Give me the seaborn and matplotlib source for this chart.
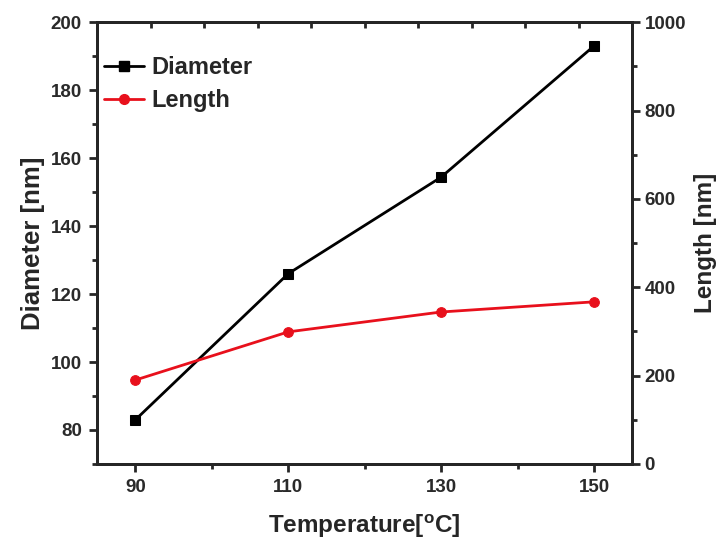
import pandas as pd
import matplotlib
matplotlib.use("Agg")
import matplotlib.pyplot as plt
from matplotlib.lines import Line2D
from matplotlib.ticker import MultipleLocator
import seaborn as sns

# data
temperature = [90, 110, 130, 150]
diameter = [83, 126, 154.4, 193]
length = [190, 299, 344, 367]

sns.set_style("ticks")
plt.rcParams['font.family'] = ['Liberation Sans', 'DejaVu Sans']
plt.rcParams['font.weight'] = 'bold'
plt.rcParams['axes.labelweight'] = 'bold'
plt.rcParams['axes.linewidth'] = 2.0
plt.rcParams['mathtext.default'] = 'regular'

TICK_COLOR = "#2a2a2a"


def main() -> None:
    df = pd.DataFrame({"temperature": temperature, "diameter": diameter, "length": length})

    fig = plt.figure(figsize=(7.2, 5.42), dpi=100)
    ax = fig.add_axes([0.135, 0.144, 0.743, 0.815])

    sns.lineplot(data=df, x="temperature", y="diameter", ax=ax, color="black",
                 marker="s", markersize=7, markeredgecolor="black", linewidth=2)
    ax2 = ax.twinx()
    sns.lineplot(data=df, x="temperature", y="length", ax=ax2, color="#e8101c",
                 marker="o", markersize=7, markeredgecolor="#e8101c", linewidth=2)

    ax.set_xlim(85, 155)
    ax.set_ylim(70, 200)
    ax2.set_ylim(0, 1000)

    ax.set_xticks([90, 110, 130, 150])
    ax.xaxis.set_minor_locator(MultipleLocator(10))
    ax.set_yticks(range(80, 201, 20))
    ax.yaxis.set_minor_locator(MultipleLocator(10))
    ax2.set_yticks(range(0, 1001, 200))
    ax2.yaxis.set_minor_locator(MultipleLocator(100))

    ax.tick_params(axis="both", which="major", direction="out", length=6, width=2,
                   labelsize=13.5, labelcolor=TICK_COLOR, pad=5)
    ax.tick_params(axis="both", which="minor", direction="out", length=3.5, width=2)
    ax2.tick_params(axis="y", which="major", direction="out", length=6, width=2,
                    labelsize=13.5, labelcolor=TICK_COLOR, pad=3)
    ax2.tick_params(axis="y", which="minor", direction="out", length=3.5, width=2)

    # small inward ticks along the top border
    top = ax.twiny()
    top.set_xlim(0, 1)
    top.set_xticks([i / 10 for i in range(1, 10)])
    top.tick_params(axis="x", direction="in", length=4, width=2, labeltop=False)

    ax.set_xlabel("Temperature[$^{o}$C]", fontsize=17.5, labelpad=12)
    ax.set_ylabel("Diameter [nm]", fontsize=18.5, labelpad=4)
    ax2.set_ylabel("Length [nm]", fontsize=17.5, labelpad=6)

    handles = [
        Line2D([], [], color="black", marker="s", markersize=7, linewidth=2),
        Line2D([], [], color="#e8101c", marker="o", markersize=7, linewidth=2),
    ]
    ax.legend(handles, ["Diameter", "Length"], loc="upper left", frameon=False,
              fontsize=17, bbox_to_anchor=(0.0, 0.94), borderaxespad=0.1,
              borderpad=0.2, handlelength=1.7, handletextpad=0.3, labelspacing=0.45)
    if ax2.get_legend() is not None:
        ax2.get_legend().remove()

    fig.savefig("out.png", dpi=100)


if __name__ == "__main__":
    main()
